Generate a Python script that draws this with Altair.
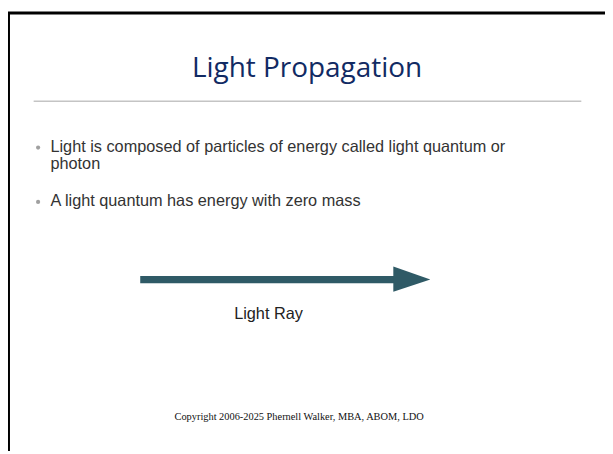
import altair as alt
import pandas as pd

# Slide content
title = "Light Propagation"
bullets = ["Light is composed of particles of energy called light quantum or", "A light quantum has energy with zero mass"]
continuation = ["photon"]
arrow_label = "Light Ray"
footer = "Copyright 2006-2025 Phernell Walker, MBA, ABOM, LDO"

W, H = 605, 446
xs = alt.Scale(domain=[8, 613], range=[0, W], nice=False, zero=False)
ys = alt.Scale(domain=[8, 454], range=[0, H], nice=False, zero=False)

def X(f="x"):
    return alt.X(f"{f}:Q", scale=xs, axis=None)

def Y(f="y"):
    return alt.Y(f"{f}:Q", scale=ys, axis=None)

# frame
frame_df = pd.DataFrame({"x": [8.5, 7], "x2": [8.5, 613], "y": [9, 10], "y2": [454, 10]})
frame = alt.Chart(frame_df).mark_rule(color="#000000", strokeWidth=3).encode(
    x=X(), x2="x2:Q", y=Y(), y2="y2:Q")

# separator
sep_df = pd.DataFrame({"x": [34], "x2": [589], "y": [99.5], "y2": [99.5]})
sep = alt.Chart(sep_df).mark_rule(color="#c4c4c4", strokeWidth=1.5).encode(
    x=X(), x2="x2:Q", y=Y(), y2="y2:Q")

title_df = pd.DataFrame({"x": [311], "y": [75], "t": [title]})
title_m = alt.Chart(title_df).mark_text(font="Open Sans", fontSize=28.3, color="#112a63",
                                        align="center", baseline="alphabetic").encode(
    x=X(), y=Y(), text="t:N")

bul_df = pd.DataFrame({"x": [51, 51], "y": [151, 206], "t": bullets})
bul_text = alt.Chart(bul_df).mark_text(font="Liberation Sans", fontSize=16.5, color="#333333",
                                       align="left", baseline="alphabetic").encode(
    x=X(), y=Y(), text="t:N")
cont_df = pd.DataFrame({"x": [51], "y": [168], "t": continuation})
cont_text = alt.Chart(cont_df).mark_text(font="Liberation Sans", fontSize=16.5, color="#333333",
                                         align="left", baseline="alphabetic").encode(
    x=X(), y=Y(), text="t:N")
dot_df = pd.DataFrame({"x": [38.5, 38.5], "y": [146.5, 201.5]})
dots = alt.Chart(dot_df).mark_circle(size=18, color="#a0a0a0", opacity=1).encode(x=X(), y=Y())

shaft_df = pd.DataFrame({"x": [142], "x2": [400], "y": [276.5], "y2": [284]})
shaft = alt.Chart(shaft_df).mark_rect(color="#2f5a66").encode(
    x=X(), x2="x2:Q", y=Y(), y2="y2:Q")
head_df = pd.DataFrame({"x": [398.5, 436], "y": [267, 280.2], "y2": [292.5, 280.2]})
head = alt.Chart(head_df).mark_area(color="#2f5a66", opacity=1, orient="vertical").encode(
    x=X(), y=Y(), y2="y2:Q")

lab_df = pd.DataFrame({"x": [272], "y": [320], "t": [arrow_label]})
lab = alt.Chart(lab_df).mark_text(font="Liberation Sans", fontSize=16.5, color="#222222",
                                  align="center", baseline="alphabetic").encode(
    x=X(), y=Y(), text="t:N")

foot_df = pd.DataFrame({"x": [303], "y": [420], "t": [footer]})
foot = alt.Chart(foot_df).mark_text(font="Liberation Serif", fontSize=10.5, color="#111111",
                                    align="center", baseline="middle").encode(
    x=X(), y=Y(), text="t:N")

chart = alt.layer(frame, sep, title_m, dots, bul_text, cont_text, shaft, head, lab, foot).properties(
    width=W, height=H, padding=0, autosize=alt.AutoSizeParams(type="none"),
    background="white"
).configure_view(stroke=None)

chart.save("out.html", embed_options={"renderer": "svg", "actions": False})
